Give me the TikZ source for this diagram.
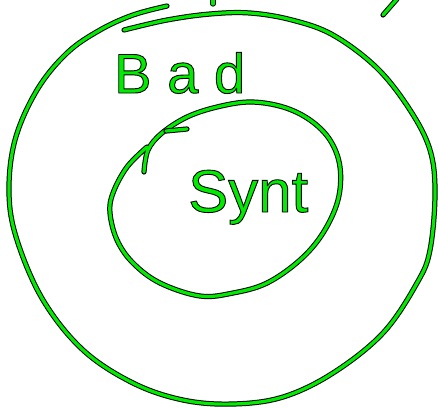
\documentclass[tikz,border=0pt]{standalone}
\usepackage{fontspec}
\setmainfont{Liberation Sans}
\usepackage{tikz}

\definecolor{penGreen}{RGB}{0,235,0}
% outlined text: fill green, stroke black
\newcommand{\inkon}{\special{pdf:literal direct 2 Tr 0.9 w 0 G}}
\newcommand{\inkoff}{\special{pdf:literal direct 0 Tr}}

\tikzset{
  pen/.style={draw=black, line width=1pt, double=penGreen, double distance=3.2pt,
              line cap=round, line join=round},
  scrawl/.style={text=penGreen, inner sep=0pt}
}

\begin{document}
\begin{tikzpicture}[x=1pt, y=-1pt]
  \useasboundingbox (0,0) rectangle (438,407);
  % outer loop
  \draw[pen] plot[smooth, tension=0.6] coordinates {
    (124,30) (167,20) (210,14) (250,13) (292,20) (333,35) (377,68) (410,110)
    (430,150) (435,193) (430,250) (417,283) (383,333) (333,373)
    (283,397) (233,404) (183,400) (133,383) (83,350) (43,300)
    (17,240) (9,193) (15,140) (37,90) (67,53) (100,30) (133,15) (167,6)};
  % inner loop
  \draw[pen] plot[smooth, tension=0.6] coordinates {
    (147,147) (127,167) (113,193) (110,213) (117,240) (133,263)
    (160,283) (200,296) (233,293) (267,283) (300,260) (323,233)
    (338,200) (340,167) (330,140) (310,120) (283,107) (250,102)
    (217,107) (187,117) (162,133) (148,150) (144,172)};
  \draw[pen] (187,129) -- (166,131);
  % cut-off strokes at the top
  \draw[pen] (213,0) -- (213,4);
  \draw[pen] (383,15) -- (397,-1);
  % labels
  \node[scrawl, anchor=base west] (bad) at (114,93)
    {\fontsize{56}{56}\selectfont\addfontfeature{LetterSpace=28}\inkon Bad\inkoff};
  \node[scrawl, anchor=base west] (synt) at (188,212)
    {\fontsize{60}{60}\selectfont\inkon Synt\inkoff};
\end{tikzpicture}
\end{document}
